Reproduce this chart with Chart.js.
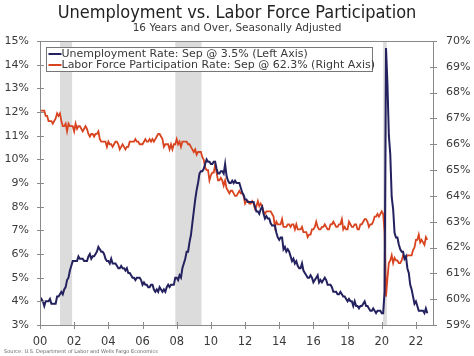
<!DOCTYPE html>
<html><head><meta charset="utf-8">
<script src="https://cdn.jsdelivr.net/npm/chart.js@4"></script>
<style>html,body{margin:0;padding:0;background:#fff}#wrap{width:474px;height:356px}</style>
</head><body><div id="wrap"><canvas id="c" width="474" height="356"></canvas></div>
<script>
// ---- DATA ----
const startYear = 2000; // monthly series starting Jan 2000, ending Sep 2022
const unemploymentRate = [
  4.0,4.1,4.0,3.8,4.0,4.0,4.0,4.1,3.9,3.9,3.9,3.9,
  4.2,4.2,4.3,4.4,4.3,4.5,4.6,4.9,5.0,5.3,5.5,5.7,
  5.7,5.7,5.7,5.9,5.8,5.8,5.8,5.7,5.7,5.7,5.9,6.0,
  5.8,5.9,5.9,6.0,6.1,6.3,6.2,6.1,6.1,6.0,5.8,5.7,
  5.7,5.6,5.8,5.6,5.6,5.6,5.5,5.4,5.4,5.5,5.4,5.4,
  5.3,5.4,5.2,5.2,5.1,5.0,5.0,4.9,5.0,5.0,5.0,4.9,
  4.7,4.8,4.7,4.7,4.6,4.6,4.7,4.7,4.5,4.4,4.5,4.4,
  4.6,4.5,4.4,4.5,4.4,4.6,4.7,4.6,4.7,4.7,4.7,5.0,
  5.0,4.9,5.1,5.0,5.4,5.6,5.8,6.1,6.1,6.5,6.8,7.3,
  7.8,8.3,8.7,9.0,9.4,9.5,9.5,9.6,9.8,10.0,9.9,9.9,
  9.8,9.8,9.9,9.9,9.6,9.4,9.4,9.5,9.5,9.4,9.8,9.3,
  9.1,9.0,9.0,9.1,9.0,9.1,9.0,9.0,9.0,8.8,8.6,8.5,
  8.3,8.3,8.2,8.2,8.2,8.2,8.2,8.0,7.8,7.8,7.7,7.9,
  8.0,7.7,7.5,7.6,7.5,7.5,7.3,7.2,7.2,7.2,6.9,6.7,
  6.6,6.7,6.7,6.2,6.3,6.1,6.2,6.1,5.9,5.7,5.8,5.6,
  5.7,5.5,5.4,5.4,5.6,5.3,5.2,5.1,5.0,5.0,5.1,5.0,
  4.8,4.9,5.0,5.1,4.8,4.9,4.8,4.9,5.0,4.9,4.7,4.7,
  4.7,4.6,4.4,4.4,4.4,4.3,4.3,4.4,4.3,4.2,4.2,4.1,
  4.0,4.1,4.0,4.0,3.8,4.0,3.8,3.8,3.7,3.8,3.8,3.9,
  4.0,3.8,3.8,3.7,3.6,3.6,3.7,3.6,3.5,3.6,3.6,3.6,
  3.5,3.5,4.4,14.7,13.2,11.0,10.2,8.4,7.9,6.9,6.7,6.7,
  6.4,6.2,6.1,6.1,5.8,5.9,5.4,5.2,4.7,4.5,4.2,3.9,
  4.0,3.8,3.6,3.6,3.6,3.6,3.5,3.7,3.5
];
const laborForceParticipation = [
  67.3,67.3,67.3,67.3,67.1,67.1,66.9,66.9,66.9,66.8,66.9,67.0,
  67.2,67.1,67.2,66.9,66.7,66.7,66.8,66.5,66.8,66.7,66.7,66.7,
  66.5,66.8,66.6,66.7,66.7,66.6,66.5,66.6,66.7,66.6,66.4,66.3,
  66.4,66.4,66.3,66.4,66.4,66.5,66.2,66.1,66.1,66.1,66.1,65.9,
  66.1,66.0,66.0,65.9,66.0,66.1,66.1,66.0,65.8,65.9,66.0,65.9,
  65.8,65.9,65.9,66.1,66.1,66.1,66.1,66.2,66.1,66.1,66.0,66.0,
  66.0,66.1,66.2,66.1,66.1,66.2,66.1,66.2,66.1,66.2,66.3,66.4,
  66.4,66.3,66.2,65.9,66.0,66.0,66.0,65.8,66.0,65.8,66.0,66.0,
  66.2,66.0,66.1,65.9,66.1,66.1,66.1,66.1,66.0,66.0,65.9,65.8,
  65.7,65.8,65.6,65.7,65.7,65.7,65.5,65.4,65.1,65.0,65.0,64.6,
  64.8,64.9,64.9,65.2,64.9,64.6,64.6,64.7,64.6,64.4,64.6,64.3,
  64.2,64.1,64.2,64.2,64.1,64.0,64.0,64.1,64.2,64.1,64.1,64.0,
  63.7,63.8,63.8,63.7,63.7,63.8,63.7,63.5,63.6,63.8,63.6,63.7,
  63.6,63.4,63.3,63.4,63.4,63.4,63.4,63.3,63.2,62.8,63.0,62.9,
  62.9,62.9,63.1,62.8,62.8,62.8,62.9,62.9,62.8,62.9,62.9,62.7,
  62.9,62.7,62.7,62.7,62.8,62.6,62.6,62.6,62.4,62.5,62.5,62.7,
  62.7,62.8,63.0,62.8,62.7,62.7,62.8,62.8,62.9,62.8,62.7,62.7,
  62.9,62.9,63.0,62.9,62.8,62.8,62.9,62.9,63.1,62.7,62.8,62.7,
  62.7,63.0,62.9,62.8,62.8,62.9,62.9,62.7,62.7,62.9,62.9,63.0,
  63.1,63.1,63.0,62.8,62.9,62.9,63.0,63.2,63.2,63.3,63.2,63.3,
  63.4,63.3,62.6,60.1,60.8,61.4,61.5,61.7,61.4,61.6,61.5,61.5,
  61.4,61.4,61.5,61.7,61.6,61.6,61.7,61.7,61.7,61.7,61.9,62.0,
  62.3,62.3,62.5,62.2,62.3,62.2,62.1,62.4,62.3
];
const recessions = [[2001.17, 2001.88], [2007.92, 2009.45], [2020.08, 2020.30]];
const xTickValues = [2000,2002,2004,2006,2008,2010,2012,2014,2016,2018,2020,2022];
const xTickLabels = ['00','02','04','06','08','10','12','14','16','18','20','22'];
const seriesLabels = ['Unemployment Rate: Sep @ 3.5% (Left Axis)', 'Labor Force Participation Rate: Sep @ 62.3% (Right Axis)'];
const titleText = 'Unemployment vs. Labor Force Participation';
const subtitleText = '16 Years and Over, Seasonally Adjusted';
const sourceText = 'Source: U.S. Department of Labor and Wells Fargo Economics';

// ---- BUILD ----
const toPoints = arr => arr.map((v, i) => ({x: startYear + i / 12, y: v}));
const NAVY = '#24215f', RED = '#d8441f', AXIS = '#8a8a8a', TXT = '#3a3a3a';
const FONT = '"DejaVu Sans", Verdana, sans-serif';
const FONT_C = '"DejaVu Sans Condensed", "DejaVu Sans", sans-serif';

const recessionPlugin = {
  id: 'recessions',
  beforeDatasetsDraw(chart) {
    const {ctx, chartArea: a, scales: {x}} = chart;
    ctx.save();
    ctx.fillStyle = '#dcdcdc';
    recessions.forEach(([s, e]) => {
      const x0 = x.getPixelForValue(s), x1 = x.getPixelForValue(e);
      ctx.fillRect(x0, a.top, x1 - x0, a.bottom - a.top);
    });
    ctx.restore();
  }
};

const framePlugin = {
  id: 'frame',
  afterDatasetsDraw(chart) {
    const {ctx, chartArea: a, scales} = chart;
    ctx.save();
    ctx.strokeStyle = AXIS;
    ctx.lineWidth = 1;
    ctx.strokeRect(Math.round(a.left) + 0.5, Math.round(a.top) + 0.5, Math.round(a.right - a.left), Math.round(a.bottom - a.top));
    ctx.beginPath();
    scales.x.ticks.forEach(t => {
      const px = Math.round(scales.x.getPixelForValue(t.value)) + 0.5;
      ctx.moveTo(px, a.bottom - 3); ctx.lineTo(px, a.bottom + 4);
    });
    scales.y.ticks.forEach(t => {
      const py = Math.round(scales.y.getPixelForValue(t.value)) + 0.5;
      ctx.moveTo(a.left - 3, py); ctx.lineTo(a.left + 4, py);
    });
    scales.y1.ticks.forEach(t => {
      const py = Math.round(scales.y1.getPixelForValue(t.value)) + 0.5;
      ctx.moveTo(a.right - 3, py); ctx.lineTo(a.right + 4, py);
    });
    ctx.stroke();
    ctx.restore();
  },
  afterDraw(chart) {
    const {ctx, chartArea: a} = chart;
    ctx.save();
    // legend box
    const bx = a.left + 6.5, by = a.top + 6.5, bw = 326, bh = 24;
    ctx.fillStyle = '#fff';
    ctx.fillRect(bx, by, bw, bh);
    ctx.strokeStyle = '#777';
    ctx.lineWidth = 1;
    ctx.strokeRect(bx, by, bw, bh);
    ctx.font = '11px ' + FONT;
    ctx.textBaseline = 'middle';
    chart.data.datasets.forEach((ds, i) => {
      const ly = by + 6.5 + i * 11;
      ctx.strokeStyle = ds.borderColor;
      ctx.lineWidth = 2;
      ctx.beginPath(); ctx.moveTo(bx + 2, ly); ctx.lineTo(bx + 15, ly); ctx.stroke();
      ctx.fillStyle = TXT;
      ctx.fillText(ds.label, bx + 15, ly + 0.5);
    });
    // titles
    ctx.textAlign = 'center';
    ctx.textBaseline = 'alphabetic';
    ctx.fillStyle = '#222';
    ctx.font = '18px ' + FONT_C;
    ctx.fillText(titleText, 237, 18);
    ctx.font = '10.5px ' + FONT;
    ctx.fillStyle = TXT;
    ctx.fillText(subtitleText, 237, 31);
    ctx.textAlign = 'left';
    ctx.font = '5px ' + FONT;
    ctx.fillStyle = '#666';
    ctx.fillText(sourceText, 4, 353);
    ctx.restore();
  }
};

new Chart(document.getElementById('c'), {
  type: 'line',
  data: {
    datasets: [
      {label: seriesLabels[0], data: toPoints(unemploymentRate), yAxisID: 'y', borderColor: NAVY, borderWidth: 2, pointRadius: 0, tension: 0},
      {label: seriesLabels[1], data: toPoints(laborForceParticipation), yAxisID: 'y1', borderColor: RED, borderWidth: 1.8, pointRadius: 0, tension: 0}
    ]
  },
  options: {
    responsive: false,
    devicePixelRatio: 1,
    animation: false,
    layout: {padding: {top: 41, bottom: 10, left: 0, right: 0}},
    plugins: {legend: {display: false}, title: {display: false}, tooltip: {enabled: false}},
    scales: {
      x: {
        type: 'linear', min: 2000, max: 2023,
        afterBuildTicks: s => { s.ticks = xTickValues.map(v => ({value: v})); },
        ticks: {callback: v => xTickLabels[xTickValues.indexOf(v)], color: TXT, font: {family: FONT, size: 11.5}, padding: 2, maxRotation: 0, autoSkip: false},
        grid: {display: false}, border: {display: false},
        afterFit: s => { s.height = 21; }
      },
      y: {
        position: 'left', min: 3, max: 15,
        ticks: {stepSize: 1, callback: v => v + '%', color: TXT, font: {family: FONT, size: 11}, padding: 3},
        grid: {display: false}, border: {display: false},
        afterFit: s => { s.width = 40; }
      },
      y1: {
        position: 'right', min: 59, max: 70,
        ticks: {stepSize: 1, callback: v => v + '%', color: TXT, font: {family: FONT, size: 11}, padding: 5},
        grid: {display: false}, border: {display: false},
        afterFit: s => { s.width = 41; }
      }
    }
  },
  plugins: [recessionPlugin, framePlugin]
});
</script></body></html>
